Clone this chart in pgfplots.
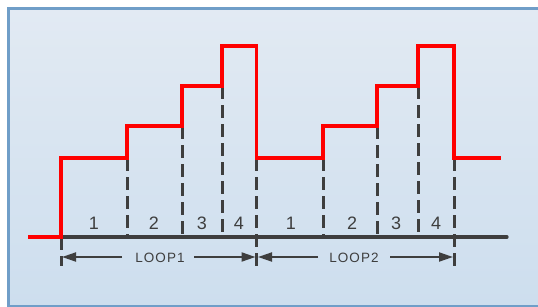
\documentclass[border=0pt]{standalone}
\usepackage{pgfplots}
\pgfplotsset{compat=1.18}
\usepackage{fontspec}
\setmainfont{Liberation Sans}
\usetikzlibrary{arrows.meta}
\definecolor{boxtop}{RGB}{226,234,243}
\definecolor{boxbot}{RGB}{205,222,238}
\definecolor{boxline}{RGB}{112,158,200}
\definecolor{dk}{RGB}{62,62,62}
\begin{document}
\begin{tikzpicture}
\begin{axis}[
  scale only axis, width=538bp, height=307bp,
  xmin=0, xmax=538, ymin=0, ymax=307, y dir=reverse,
  axis lines=none, clip=true,
]
\fill[top color=boxtop, bottom color=boxbot, draw=boxline, line width=3bp]
  (axis cs:8,9) rectangle (axis cs:548,306);
% dashed guides
\pgfplotsset{dashd/.style={dk, line width=3bp, dash pattern=on 13bp off 6bp, forget plot}}
\addplot[dashd] coordinates {(61,237) (61,266)};
\addplot[dashd] coordinates {(127,158) (127,237)};
\addplot[dashd] coordinates {(182,126) (182,237)};
\addplot[dashd] coordinates {(222,86) (222,237)};
\addplot[dashd] coordinates {(256.5,158) (256.5,266)};
\addplot[dashd] coordinates {(323,158) (323,237)};
\addplot[dashd] coordinates {(377,126) (377,237)};
\addplot[dashd] coordinates {(418,86) (418,237)};
\addplot[dashd] coordinates {(454,158) (454,266)};
% baseline
\addplot[dk, line width=3.2bp, line cap=round] coordinates {(61,237) (507,237)};
% red step signal
\addplot[red, line width=3.2bp, line join=miter] coordinates {
 (28,237) (61,237) (61,158) (127,158) (127,126) (182,126) (182,86)
 (222,86) (222,46) (256.5,46) (256.5,158) (323,158) (323,126) (377,126)
 (377,86) (418,86) (418,46) (454,46) (454,158) (501,158)};
% arrows
\pgfplotsset{arr/.style={dk, line width=2bp, -{Triangle[length=14bp,width=9bp]}}}
\addplot[arr] coordinates {(122,257) (62,257)};
\addplot[arr] coordinates {(194,257) (255.5,257)};
\addplot[arr] coordinates {(318,257) (258,257)};
\addplot[arr] coordinates {(390,257) (453,257)};
% labels
\begin{scope}[every node/.style={text=dk, font=\fontsize{18bp}{20bp}\selectfont}]
\node at (axis cs:94,223) {1};
\node at (axis cs:154,223) {2};
\node at (axis cs:202,223) {3};
\node at (axis cs:239,223) {4};
\node at (axis cs:291,223) {1};
\node at (axis cs:352,223) {2};
\node at (axis cs:396,223) {3};
\node at (axis cs:436,223) {4};
\end{scope}
\node[text=dk, font=\fontsize{13.5bp}{15bp}\selectfont\addfontfeature{LetterSpace=8}] at (axis cs:160,258) {LOOP1};
\node[text=dk, font=\fontsize{13.5bp}{15bp}\selectfont\addfontfeature{LetterSpace=8}] at (axis cs:354,258) {LOOP2};
\end{axis}
\pgfresetboundingbox
\useasboundingbox (current axis.south west) rectangle (current axis.north east);
\end{tikzpicture}
\end{document}
